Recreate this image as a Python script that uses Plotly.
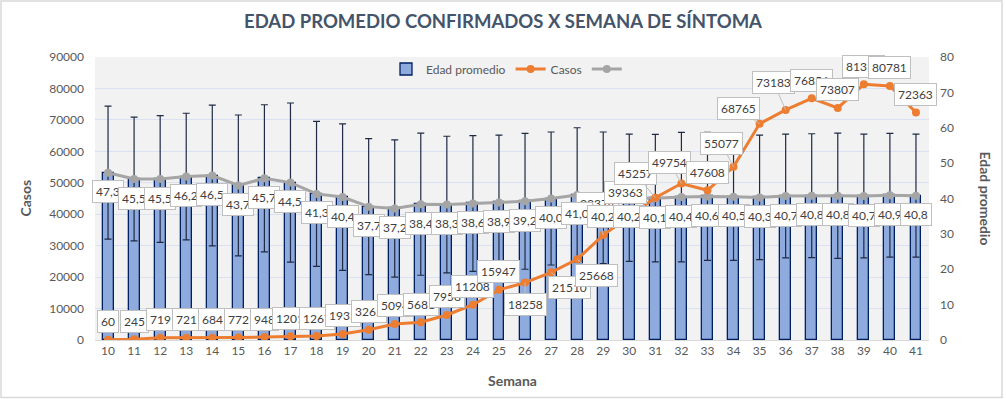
import plotly.graph_objects as go

# ---- data ----
semanas = list(range(10, 42))
edad_promedio = [47.3, 45.5, 45.5, 46.2, 46.5, 43.7, 45.7, 44.5, 41.3, 40.4, 37.7,
                 37.2, 38.4, 38.3, 38.6, 38.9, 39.2, 40.0, 41.0, 40.2, 40.2, 40.1,
                 40.4, 40.6, 40.5, 40.3, 40.7, 40.8, 40.8, 40.7, 40.9, 40.8]
edad_desv = [18.8, 17.5, 17.9, 17.9, 19.9, 19.9, 20.8, 22.5, 20.5, 20.7, 19.2,
             19.4, 20.1, 19.3, 19.2, 19.0, 19.2, 18.8, 19.0, 18.6, 18.0, 18.0,
             18.3, 18.1, 18.0, 17.6, 17.5, 17.5, 17.7, 17.5, 17.5, 17.4]
casos = [60, 245, 719, 721, 684, 772, 948, 1201, 1267, 1935, 3265,
         5094, 5681, 7958, 11208, 15947, 18258, 21510, 25668, 33374, 39363, 45257,
         49754, 47608, 55077, 68765, 73183, 76856, 73807, 81313, 80781, 72363]

# label placement offsets (pixels) for the "Casos" data labels
default_casos_off = (0, -18)
casos_label_off = {26: (0, 22), 27: (18, 15), 28: (19, 16), 29: (-6, -32),
                   30: (-4, -24), 31: (-20, -24), 32: (-12, -21), 34: (-12, -23),
                   35: (-21, -15), 36: (-12, -27)}

FONT = "Lato"
TXT = "#595959"
LBL = "#404040"

fig = go.Figure()

fig.add_trace(go.Bar(
    x=semanas, y=edad_promedio, name="Edad promedio", yaxis="y",
    width=0.42,
    marker=dict(color="#8FAADC", line=dict(color="#002060", width=1.3)),
    error_y=dict(type="data", array=edad_desv, visible=True,
                 color="#1F2A44", thickness=1.2, width=3.5),
))
fig.add_trace(go.Scatter(
    x=semanas, y=edad_promedio, name="", yaxis="y", mode="lines+markers",
    line=dict(color="#A5A5A5", width=3),
    marker=dict(color="#A5A5A5", size=8),
))
fig.add_trace(go.Scatter(
    x=semanas, y=casos, name="Casos", yaxis="y2", mode="lines+markers",
    line=dict(color="#ED7D31", width=3),
    marker=dict(color="#ED7D31", size=8),
))

fig.data[0].legendrank = 1
fig.data[2].legendrank = 2
fig.data[1].legendrank = 3

annotations = []
for s, c in zip(semanas, casos):
    ax, ay = casos_label_off.get(s, default_casos_off)
    leader = s in casos_label_off
    annotations.append(dict(
        x=s, y=c, xref="x", yref="y2", text=str(c),
        showarrow=True, ax=ax, ay=ay, arrowhead=0, arrowwidth=1,
        arrowcolor="#BFBFBF" if leader else "rgba(0,0,0,0)",
        font=dict(family=FONT, size=12, color=LBL),
        bgcolor="white", bordercolor="#BFBFBF", borderwidth=1, borderpad=3,
    ))
for s, e in zip(semanas, edad_promedio):
    annotations.append(dict(
        x=s, y=e, xref="x", yref="y", text=f"{e:.1f}".replace(".", ","),
        showarrow=True, ax=0, ay=19, arrowhead=0, arrowcolor="rgba(0,0,0,0)",
        font=dict(family=FONT, size=12, color=LBL),
        bgcolor="white", bordercolor="#BFBFBF", borderwidth=1, borderpad=3,
    ))

L, R, T, B = 95, 77, 57, 59
W, H = 1006, 399
pw, ph = W - L - R, H - T - B


def px_x(p):
    return (p - L) / pw


def px_y(p):
    return (H - B - p) / ph


# axis titles
annotations.append(dict(text="<b>Casos</b>", xref="paper", yref="paper",
                        x=px_x(25), y=0.5, xanchor="center", yanchor="middle",
                        showarrow=False, textangle=-90,
                        font=dict(family=FONT, size=14, color=TXT)))
annotations.append(dict(text="<b>Edad promedio</b>", xref="paper", yref="paper",
                        x=px_x(985), y=0.5, xanchor="center", yanchor="middle",
                        showarrow=False, textangle=90,
                        font=dict(family=FONT, size=14, color=TXT)))
annotations.append(dict(text="<b>Semana</b>", xref="paper", yref="paper",
                        x=0.5, y=px_y(380), xanchor="center", yanchor="middle",
                        showarrow=False,
                        font=dict(family=FONT, size=14, color=TXT)))

fig.update_layout(
    width=W, height=H,
    margin=dict(l=L, r=R, t=T, b=B, autoexpand=False),
    paper_bgcolor="white",
    plot_bgcolor="#F2F2F2",
    font=dict(family=FONT, size=12, color=TXT),
    title=dict(text="<b>EDAD PROMEDIO CONFIRMADOS X SEMANA DE SÍNTOMA</b>",
               x=0.5, xref="container", xanchor="center", y=1 - 22 / H, yanchor="middle",
               font=dict(family=FONT, size=18.5, color="#44546A")),
    bargap=0,
    showlegend=True,
    legend=dict(orientation="h", x=px_x(509), xanchor="center", y=px_y(69), yanchor="middle",
                bgcolor="rgba(0,0,0,0)", font=dict(family=FONT, size=12, color=TXT),
                itemwidth=30, traceorder="normal"),
    xaxis=dict(range=[9.5, 41.5], tickmode="array", tickvals=semanas,
               ticktext=[str(s) for s in semanas], showgrid=False,
               showline=True, linecolor="#D9D9D9", linewidth=1, ticks="",
               tickfont=dict(family=FONT, size=12, color=TXT), zeroline=False,
               automargin=False),
    yaxis=dict(range=[0, 80], dtick=10, side="right", showgrid=False, zeroline=False,
               tickfont=dict(family=FONT, size=12, color=TXT), ticks="",
               ticklabelstandoff=10, automargin=False),
    yaxis2=dict(range=[0, 90000], dtick=10000, side="left", overlaying="y",
                showgrid=True, gridcolor="#D9E1F2", gridwidth=1, zeroline=False,
                tickfont=dict(family=FONT, size=12, color=TXT), ticks="",
                ticklabelstandoff=10, tickformat="d", automargin=False),
    annotations=annotations,
    shapes=[dict(type="rect", xref="paper", yref="paper",
                 x0=px_x(1), x1=px_x(1002), y0=px_y(397.5), y1=px_y(1),
                 line=dict(color="#D9D9D9", width=1.5), layer="below")],
)

fig.write_html("out.html", config={"displayModeBar": False},
               post_script="document.body.style.margin='0px';")
